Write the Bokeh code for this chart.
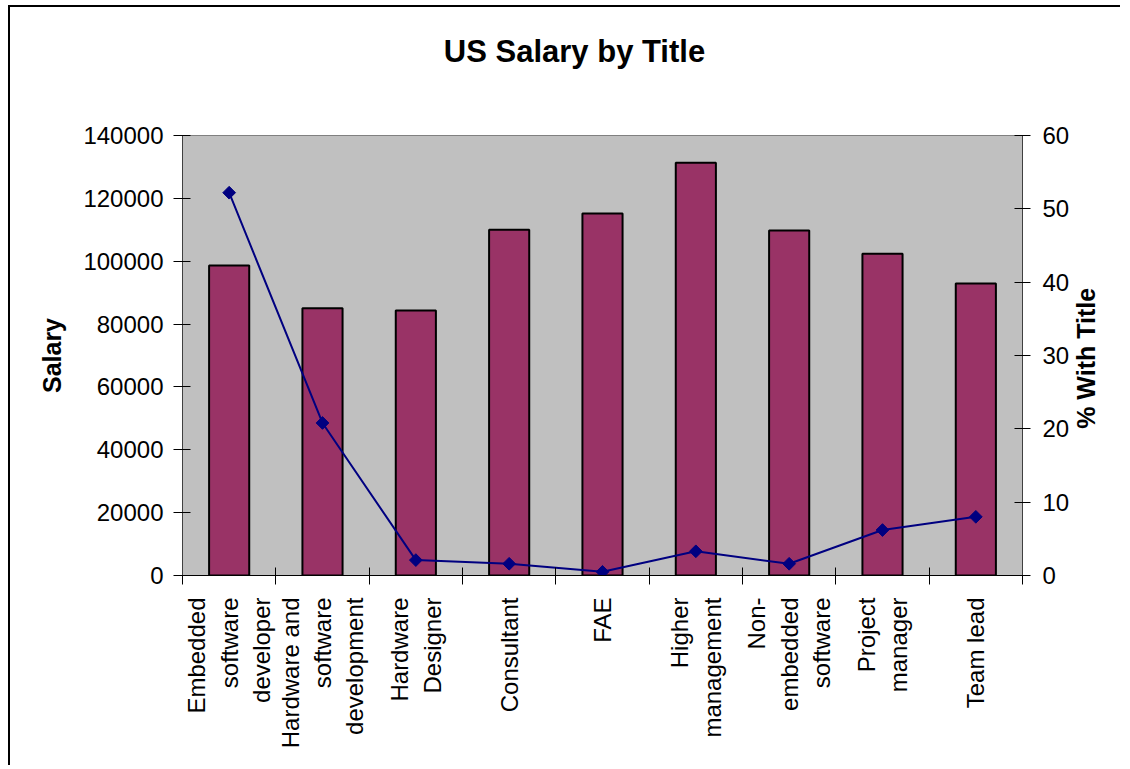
import numpy as np
from bokeh.plotting import figure
from bokeh.models import Range1d, LinearAxis, FixedTicker, SingleIntervalTicker, BasicTickFormatter
from bokeh.embed import file_html
from bokeh.resources import INLINE

# ---- data ----
categories = ["Embedded software developer", "Hardware and software development",
              "Hardware Designer", "Consultant", "FAE", "Higher management",
              "Non-embedded software", "Project manager", "Team lead"]
tick_labels = ["Embedded\nsoftware\ndeveloper", "Hardware and\nsoftware\ndevelopment",
               "Hardware\nDesigner", "Consultant", "FAE", "Higher\nmanagement",
               "Non-\nembedded\nsoftware", "Project\nmanager", "Team lead"]
salary = [98600, 85000, 84300, 110000, 115200, 131300, 109800, 102400, 92900]
pct_with_title = [52.2, 20.8, 2.1, 1.6, 0.5, 3.3, 1.6, 6.2, 8.0]
chart_title = "US Salary by Title"
pct_title = "% With Title"

FONT = "Liberation Sans"
n = len(categories)
centers = [i + 0.5 for i in range(n)]
bounds = [float(i) for i in range(n + 1)]

p = figure(width=1112, height=760, output_backend="svg", toolbar_location=None,
           x_range=Range1d(0, n), y_range=Range1d(0, 140000),
           min_border_left=172, min_border_right=100, min_border_top=128, min_border_bottom=192)
p.styles = {"border-left": "2px solid black", "border-top": "2px solid black",
            "margin-left": "8px", "margin-top": "5px"}

p.background_fill_color = "#C0C0C0"
p.border_fill_color = "white"
p.outline_line_color = "#808080"
p.xgrid.visible = False
p.ygrid.visible = False
p.title.visible = False

xa = p.below[0]
ya = p.left[0]


def bare_axis(ax, tick, text):
    ax.ticker = FixedTicker(ticks=[tick])
    ax.major_label_overrides = {tick: text}
    ax.axis_line_color = None
    ax.major_tick_line_color = None
    ax.minor_tick_line_color = None
    ax.major_tick_in = 0
    ax.major_tick_out = 0
    ax.minor_tick_in = 0
    ax.minor_tick_out = 0


# chart title: a single label on a bare axis above the frame (centred on the whole chart)
title_x = n / 2 - 0.3
ta = LinearAxis()
bare_axis(ta, title_x, chart_title)
ta.major_label_text_font = FONT
ta.major_label_text_font_size = "31px"
ta.major_label_text_font_style = "bold"
ta.major_label_text_color = "black"
ta.major_label_standoff = 67
p.add_layout(ta, "above")

# bars
p.vbar(x=centers, top=salary, width=0.43, fill_color="#993366",
       line_color="black", line_width=2)

# right axis range and line
p.extra_y_ranges = {"pct": Range1d(0, 60)}
p.line(x=centers, y=pct_with_title, y_range_name="pct", line_color="#000080", line_width=2)
p.scatter(x=centers, y=pct_with_title, y_range_name="pct", marker="square", angle=np.pi / 4,
          size=9, fill_color="#000080", line_color="#000080")

# x axis
xa.ticker = FixedTicker(ticks=centers, minor_ticks=bounds)
xa.major_label_overrides = {c: lab for c, lab in zip(centers, tick_labels)}
xa.major_label_orientation = np.pi / 2
xa.major_tick_line_color = None
xa.major_tick_in = 0
xa.major_tick_out = 9
xa.minor_tick_in = 8
xa.minor_tick_out = 9
xa.minor_tick_line_color = "black"
xa.minor_tick_line_width = 1
xa.axis_line_color = "black"
xa.major_label_standoff = 13
xa.major_label_text_font = FONT
xa.major_label_text_font_size = "24px"
xa.major_label_text_color = "black"
xa.major_label_text_line_height = 1.2

# left axis
ya.ticker = SingleIntervalTicker(interval=20000)
ya.formatter = BasicTickFormatter(use_scientific=False)
ya.axis_label = "Salary"
ya.axis_label_text_font = FONT
ya.axis_label_text_font_size = "25px"
ya.axis_label_text_font_style = "bold"
ya.axis_label_text_color = "black"
ya.axis_label_standoff = 14
ya.major_label_text_font = FONT
ya.major_label_text_font_size = "24px"
ya.major_label_text_color = "black"
ya.major_label_standoff = 10
ya.major_tick_in = 8
ya.major_tick_out = 9
ya.major_tick_line_color = "black"
ya.minor_tick_line_color = None
ya.axis_line_color = "#404040"

# right axis
ra = LinearAxis(y_range_name="pct", ticker=SingleIntervalTicker(interval=10))
ra.major_label_text_font = FONT
ra.major_label_text_font_size = "24px"
ra.major_label_text_color = "black"
ra.major_label_standoff = 12
ra.major_tick_in = 8
ra.major_tick_out = 8
ra.major_tick_line_color = "black"
ra.minor_tick_line_color = None
ra.axis_line_color = "#404040"
p.add_layout(ra, "right")

# right axis title (reads bottom-to-top), a single label on a bare second right axis
ra2 = LinearAxis(y_range_name="pct")
bare_axis(ra2, 20, pct_title)
ra2.major_label_orientation = np.pi / 2
ra2.major_label_text_font = FONT
ra2.major_label_text_font_size = "25px"
ra2.major_label_text_font_style = "bold"
ra2.major_label_text_color = "black"
ra2.major_label_standoff = 14
p.add_layout(ra2, "right")

open("out.html", "w").write(file_html(p, INLINE))
